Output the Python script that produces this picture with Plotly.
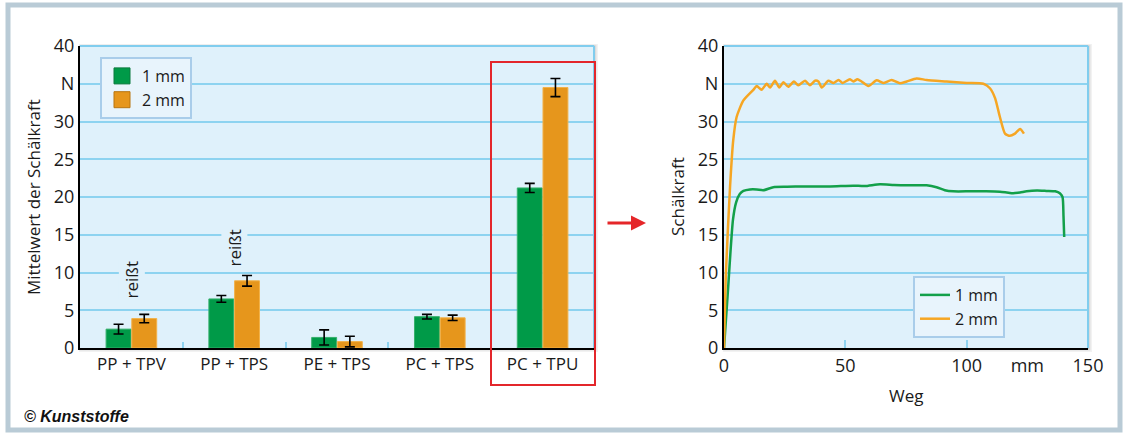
import plotly.graph_objects as go

# ---------------- data ----------------
categories = ["PP + TPV", "PP + TPS", "PE + TPS", "PC + TPS", "PC + TPU"]
mean_1mm = [2.5, 6.5, 1.4, 4.15, 21.2]
err_1mm = [0.65, 0.45, 1.0, 0.3, 0.6]
mean_2mm = [3.9, 8.9, 0.85, 4.0, 34.5]
err_2mm = [0.55, 0.7, 0.7, 0.35, 1.2]

weg_1mm = [0, 1.5, 3.7, 5.0, 6.5, 8.0, 10.7, 13.5, 16.2, 20.3, 26.0, 32.7, 43.7, 53.3, 58.0,
           64.3, 70.0, 75.3, 83.5, 87.6, 91.0, 94.5, 101.4, 108.0, 113.7, 116.5, 119.2,
           122.0, 124.7, 129.0, 132.9, 136.5, 138.4, 139.5, 139.9, 140.2]
kraft_1mm = [0, 7.0, 17.0, 19.3, 20.4, 20.8, 21.0, 21.0, 20.9, 21.3, 21.35, 21.4, 21.4, 21.5, 21.45,
             21.7, 21.6, 21.55, 21.55, 21.3, 20.9, 20.75, 20.75, 20.75, 20.7, 20.6, 20.5,
             20.6, 20.75, 20.85, 20.8, 20.75, 20.5, 20.0, 17.5, 14.7]

weg_2mm = [0, 0.8, 2.5, 3.8, 5.2, 8.0, 12.1, 13.5, 15.5, 17.6, 19.0, 21.0, 22.8, 24.5, 26.5,
           28.8, 30.6, 33.4, 35.4, 37.5, 38.9, 40.3, 43.0, 45.1, 47.2, 48.9, 51.9, 53.3, 55.0,
           56.7, 59.5, 62.9, 65.6, 69.1, 72.5, 75.3, 79.4, 83.5, 91.7, 100.0, 106.9, 109.6,
           111.7, 113.7, 115.8, 117.8, 119.9, 122.0, 123.6]
kraft_2mm = [0, 10.0, 21.4, 27.5, 30.6, 32.8, 34.2, 34.7, 34.2, 35.0, 34.5, 35.4, 34.5, 35.2, 34.6,
             35.3, 34.8, 35.4, 34.8, 35.4, 35.3, 34.5, 35.4, 35.1, 35.5, 35.1, 35.6, 35.3, 35.6,
             35.3, 34.7, 35.45, 35.1, 35.5, 35.05, 35.3, 35.7, 35.5, 35.3, 35.1, 35.0, 34.4,
             33.1, 30.6, 28.4, 28.1, 28.4, 29.0, 28.4]

series_names = ["1 mm", "2 mm"]
y_tickvals = [0, 5, 10, 15, 20, 25, 30, 35, 40]
y_ticktext = ["0", "5", "10", "15", "20", "25", "30", "N", "40"]
x2_tickvals = [0, 50, 100, 125, 150]
x2_ticktext = ["0", "50", "100", "mm", "150"]

# ---------------- styles ----------------
W, H = 1128, 434
FONT = "'Open Sans', 'Noto Sans', sans-serif"
TXT = "#1a1a1a"
PLOT_BG = "#dff1fb"
GRID = "#8dd3f0"
BORDER_BLUE = "#80cdee"
GREEN_BAR = "#009a48"
ORANGE_BAR = "#e6961c"
GREEN_LINE = "#13a04a"
ORANGE_LINE = "#f6a623"

def px_x(p):
    return p / W

def px_y(p):
    return 1 - p / H

L1, R1 = px_x(80), px_x(594)
L2, R2 = px_x(724), px_x(1088)
B, T = px_y(348), px_y(46)

fig = go.Figure()

fig.add_trace(go.Bar(
    x=categories, y=mean_1mm, name=series_names[0], showlegend=False,
    marker=dict(color=GREEN_BAR, line=dict(color="#36b06c", width=1)),
    error_y=dict(type="data", array=err_1mm, color="black", thickness=1.6, width=5),
    xaxis="x", yaxis="y",
))
fig.add_trace(go.Bar(
    x=categories, y=mean_2mm, name=series_names[1], showlegend=False,
    marker=dict(color=ORANGE_BAR, line=dict(color="#f2b24a", width=1)),
    error_y=dict(type="data", array=err_2mm, color="black", thickness=1.6, width=5),
    xaxis="x", yaxis="y",
))
# legend-only entries (larger square swatches, as in the original legend)
for nm, col, edge in [(series_names[0], GREEN_BAR, "#0b7a3e"), (series_names[1], ORANGE_BAR, "#b8740f")]:
    fig.add_trace(go.Scatter(
        x=[None], y=[None], mode="markers", name=nm,
        marker=dict(symbol="square", size=16, color=col, line=dict(color=edge, width=1)),
        xaxis="x", yaxis="y", legend="legend",
    ))

fig.add_trace(go.Scatter(
    x=weg_1mm, y=kraft_1mm, mode="lines", name=series_names[0],
    line=dict(color=GREEN_LINE, width=2.5, shape="spline", smoothing=0.6),
    xaxis="x2", yaxis="y2", legend="legend2",
))
fig.add_trace(go.Scatter(
    x=weg_2mm, y=kraft_2mm, mode="lines", name=series_names[1],
    line=dict(color=ORANGE_LINE, width=2.5, shape="spline", smoothing=0.6),
    xaxis="x2", yaxis="y2", legend="legend2",
))

axis_common_y = dict(
    range=[0, 40], tickvals=y_tickvals, ticktext=y_ticktext,
    showgrid=True, gridcolor=GRID, gridwidth=1.5,
    showline=True, linecolor="black", linewidth=2,
    ticks="", tickfont=dict(family=FONT, size=18, color=TXT),
    zeroline=False, fixedrange=True, automargin=False,
)

fig.update_layout(
    width=W, height=H, autosize=False,
    margin=dict(l=0, r=0, t=0, b=0, pad=0, autoexpand=False),
    paper_bgcolor="white", plot_bgcolor=PLOT_BG,
    font=dict(family=FONT, color=TXT),
    barmode="group", bargap=0.5, bargroupgap=0.03,
    xaxis=dict(
        domain=[L1, R1], anchor="y", type="category", automargin=False,
        showline=True, linecolor="black", linewidth=2,
        tickson="boundaries", ticks="inside", ticklen=6, tickcolor=GRID, tickwidth=1.5,
        tickfont=dict(family=FONT, size=17, color=TXT), showgrid=False,
    ),
    yaxis=dict(domain=[B, T], anchor="x", **axis_common_y),
    xaxis2=dict(
        domain=[L2, R2], anchor="y2", range=[0, 150], automargin=False,
        tickvals=x2_tickvals, ticktext=x2_ticktext, ticks="",
        minor=dict(tickvals=[50, 100], ticks="inside", ticklen=8, tickcolor=GRID, tickwidth=1.5),
        showline=True, linecolor="black", linewidth=2, showgrid=False, zeroline=False,
        tickfont=dict(family=FONT, size=18, color=TXT),
    ),
    yaxis2=dict(domain=[B, T], anchor="x2", **axis_common_y),
    legend=dict(
        x=px_x(100), y=px_y(57), xanchor="left", yanchor="top",
        bgcolor="#e8f4fc", bordercolor="#a9cdea", borderwidth=2,
        font=dict(family=FONT, size=16, color=TXT), itemwidth=30, tracegroupgap=0,
    ),
    legend2=dict(
        x=px_x(913), y=px_y(276), xanchor="left", yanchor="top",
        bgcolor="#e8f4fc", bordercolor="#a9cdea", borderwidth=2,
        font=dict(family=FONT, size=16, color=TXT),
    ),
    showlegend=True,
)

shapes = []
# outer frame
shapes.append(dict(type="rect", xref="paper", yref="paper",
                   x0=px_x(8), x1=px_x(1120), y0=px_y(430), y1=px_y(5),
                   line=dict(color="#b9cbd6", width=5), layer="below"))
# soft shadow, plot background, light blue top/right borders of both plot areas
for l, r in [(L1, R1), (L2, R2)]:
    for d, a in [(4, 0.05), (2.5, 0.07), (1.2, 0.10)]:
        shapes.append(dict(type="rect", xref="paper", yref="paper",
                           x0=l - px_x(d) * 0.3, x1=r + px_x(d), y0=B - d / H, y1=T + d * 0.5 / H,
                           line=dict(width=0), fillcolor=f"rgba(0,0,0,{a})", layer="below"))
    shapes.append(dict(type="rect", xref="paper", yref="paper", x0=l, x1=r, y0=B, y1=T,
                       line=dict(width=0), fillcolor=PLOT_BG, layer="below"))
    shapes.append(dict(type="line", xref="paper", yref="paper", x0=l, x1=r, y0=T, y1=T,
                       line=dict(color=BORDER_BLUE, width=2)))
    shapes.append(dict(type="line", xref="paper", yref="paper", x0=r, x1=r, y0=B, y1=T,
                       line=dict(color=BORDER_BLUE, width=2)))
# red highlight box
shapes.append(dict(type="rect", xref="paper", yref="paper",
                   x0=px_x(491), x1=px_x(595), y0=px_y(385), y1=px_y(62),
                   line=dict(color="#e3262b", width=2)))
fig.update_layout(shapes=shapes)

ann_font = dict(family=FONT, size=17, color=TXT)
annotations = [
    dict(text="Mittelwert der Schälkraft", xref="paper", yref="paper",
         x=px_x(33), y=(B + T) / 2, xanchor="center", yanchor="middle",
         textangle=-90, showarrow=False, font=ann_font),
    dict(text="Schälkraft", xref="paper", yref="paper",
         x=px_x(677), y=(B + T) / 2, xanchor="center", yanchor="middle",
         textangle=-90, showarrow=False, font=ann_font),
    dict(text="Weg", xref="paper", yref="paper",
         x=(L2 + R2) / 2, y=px_y(395), xanchor="center", yanchor="middle",
         showarrow=False, font=ann_font),
    dict(text="reißt", xref="x", yref="y", x=categories[0], y=9.0, textangle=-90,
         xanchor="center", yanchor="middle",
         showarrow=False, bgcolor=PLOT_BG, font=ann_font),
    dict(text="reißt", xref="x", yref="y", x=categories[1], y=13.2, textangle=-90,
         xanchor="center", yanchor="middle",
         showarrow=False, bgcolor=PLOT_BG, font=ann_font),
    dict(text="<b><i>© Kunststoffe</i></b>", xref="paper", yref="paper",
         x=px_x(22), y=px_y(416), xanchor="left", yanchor="middle", showarrow=False,
         font=dict(family="'Liberation Sans Narrow', 'Liberation Sans', Arial, sans-serif",
                   size=16, color="#111")),
    dict(text="", xref="paper", yref="paper", x=px_x(646), y=px_y(223),
         ax=-40, ay=0, showarrow=True, arrowhead=2, arrowsize=1, arrowwidth=3,
         arrowcolor="#e52629"),
]
fig.update_layout(annotations=annotations)

fig.write_html(
    "out.html",
    config={"displayModeBar": False},
    post_script="document.body.style.margin='0';document.body.style.overflow='hidden';",
)
